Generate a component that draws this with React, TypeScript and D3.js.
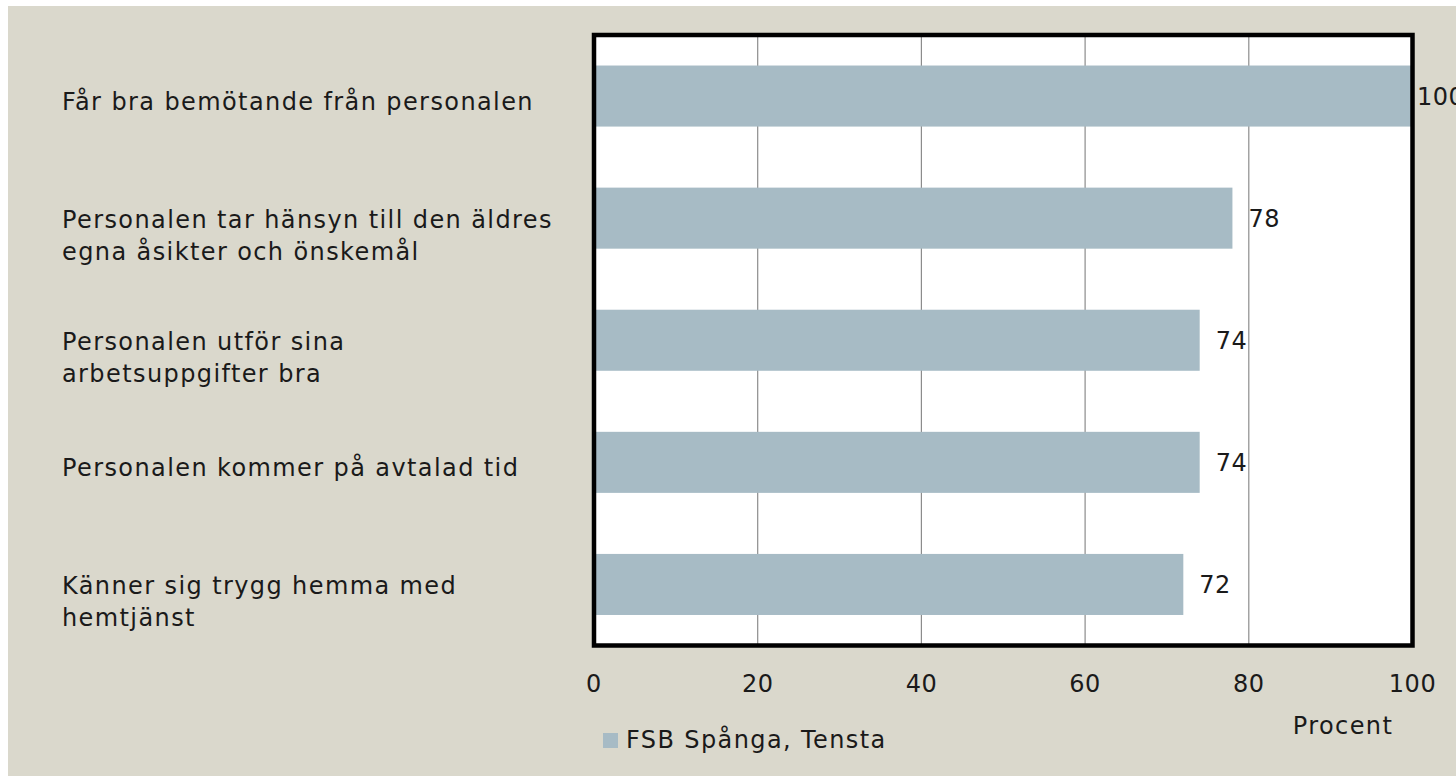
import React from "react";
import * as d3 from "d3";

const categories: string[][] = [
  ["Får bra bemötande från personalen"],
  ["Personalen tar hänsyn till den äldres", "egna åsikter och önskemål"],
  ["Personalen utför sina", "arbetsuppgifter bra"],
  ["Personalen kommer på avtalad tid"],
  ["Känner sig trygg hemma med", "hemtjänst"],
];
const values: number[] = [100, 78, 74, 74, 72];
const ticks: number[] = [0, 20, 40, 60, 80, 100];
const seriesName = "FSB Spånga, Tensta";
const axisTitle = "Procent";

const W = 1456;
const H = 776;
const FONT = "'DejaVu Sans', sans-serif";
const TEXT = "#1a1a1a";
const FS = 24;
const LS = 1.4;

export default function App() {
  const left = 594, right = 1412.5, top = 35, bottom = 645.5;
  const x = d3.scaleLinear().domain([0, 100]).range([left, right]);
  const y = d3
    .scaleBand<number>()
    .domain(d3.range(categories.length))
    .range([top, bottom])
    .paddingInner(0.5)
    .paddingOuter(0.25);

  return (
    <svg
      width={W}
      height={H}
      style={{ position: "absolute", left: 0, top: 0 }}
      fontFamily={FONT}
    >
      <rect x={8} y={6} width={W - 8} height={H - 6} fill="#dad8cc" />
      <rect x={left} y={top} width={right - left} height={bottom - top} fill="#ffffff" />
      {ticks.slice(1, -1).map((t) => (
        <line key={t} x1={x(t)} x2={x(t)} y1={top} y2={bottom} stroke="#8c8c8c" strokeWidth={1.2} />
      ))}
      {values.map((v, i) => (
        <rect
          key={i}
          x={x(0)}
          y={y(i)!}
          width={x(v) - x(0)}
          height={y.bandwidth()}
          fill="#a7bbc5"
        />
      ))}
      <rect
        x={left}
        y={top}
        width={right - left}
        height={bottom - top}
        fill="none"
        stroke="#000"
        strokeWidth={4.5}
      />
      {values.map((v, i) => (
        <text
          key={i}
          x={Math.min(x(v) + 16, 1417)}
          y={y(i)! + y.bandwidth() / 2 + 9}
          fontSize={FS}
          letterSpacing={0.5}
          fill={TEXT}
        >
          {v}
        </text>
      ))}
      {categories.map((lines, i) => {
        const cy = y(i)! + y.bandwidth() / 2;
        const lh = 32;
        const start = lines.length === 1 ? cy + 14 : cy + 10;
        return (
          <text key={i} fontSize={FS} letterSpacing={LS} fill={TEXT}>
            {lines.map((l, j) => (
              <tspan key={j} x={62} y={start + j * lh}>
                {l}
              </tspan>
            ))}
          </text>
        );
      })}
      {ticks.map((t) => (
        <text
          key={t}
          x={x(t)}
          y={692}
          textAnchor="middle"
          fontSize={FS}
          letterSpacing={0.5}
          fill={TEXT}
        >
          {t}
        </text>
      ))}
      <text x={1343} y={734} textAnchor="middle" fontSize={FS} letterSpacing={LS} fill={TEXT}>
        {axisTitle}
      </text>
      <rect x={603} y={733} width={15} height={15} fill="#a7bbc5" />
      <text x={626} y={748} fontSize={FS} letterSpacing={LS} fill={TEXT}>
        {seriesName}
      </text>
    </svg>
  );
}
